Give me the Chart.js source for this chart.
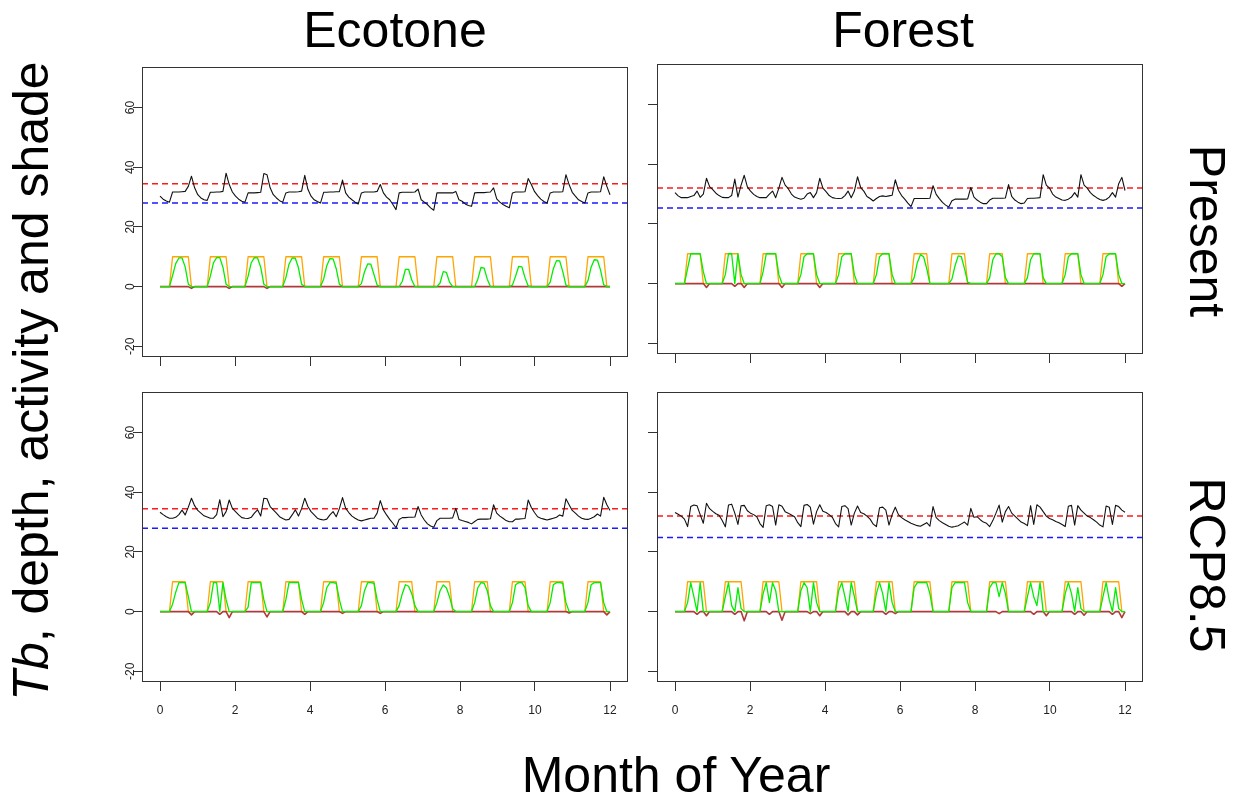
<!DOCTYPE html>
<html>
<head>
<meta charset="utf-8">
<script src="https://cdn.jsdelivr.net/npm/chart.js@4.4.1/dist/chart.umd.min.js"></script>
<style>
  body { margin: 0; background: #fff; width: 1236px; height: 805px; position: relative; overflow: hidden;
         font-family: "Liberation Sans", Arial, sans-serif; }
  canvas { position: absolute; }
  .lab { position: absolute; font-size: 50px; line-height: 50px; white-space: nowrap; color: #000; }
</style>
</head>
<body>
<div class="lab" style="left:395px;top:5px;transform:translateX(-50%)">Ecotone</div>
<div class="lab" style="left:903px;top:5px;transform:translateX(-50%)">Forest</div>
<div class="lab" style="left:676px;top:750px;transform:translateX(-50%)">Month of Year</div>
<div class="lab" style="left:31px;top:381px;transform:translate(-50%,-50%) rotate(-90deg)"><i>Tb</i>, depth, activity and shade</div>
<div class="lab" style="left:1207px;top:231px;transform:translate(-50%,-50%) rotate(90deg)">Present</div>
<div class="lab" style="left:1207px;top:565px;transform:translate(-50%,-50%) rotate(90deg)">RCP8.5</div>

<canvas id="ecoPres" width="546" height="345" style="left:97px;top:57px"></canvas>
<canvas id="forPres" width="546" height="345" style="left:612px;top:54px"></canvas>
<canvas id="ecoRcp" width="546" height="345" style="left:97px;top:382px"></canvas>
<canvas id="forRcp" width="546" height="345" style="left:612px;top:382px"></canvas>

<script>
// axes (R style: 4% expansion of 0..12 and -20..70)
const monthTicks = [0, 2, 4, 6, 8, 10, 12];
const valueTicks = [-20, 0, 20, 40, 60];
const xMin = -0.48, xMax = 12.48;
const yMin = -23.6, yMax = 73.6;

// dashed thresholds per panel: ecotone present, forest present, ecotone rcp, forest rcp
const upperLine = [34.5, 32.0, 34.5, 32.0];
const lowerLine = [28.0, 25.3, 27.9, 24.8];

// every series: 12 months x 12 two-hourly readings (hour 0,2,...,22)

// ---- Ecotone, Present ----
const tbEcoPres = [
  30.3, 29.3, 28.7, 28.3, 31.7, 31.7, 31.7, 31.8, 31.9, 33.6, 37.0, 33.1,
  30.8, 29.7, 29.1, 28.9, 31.6, 31.6, 31.7, 31.7, 31.9, 38.0, 34.2, 31.7,
  30.3, 29.3, 28.6, 28.3, 31.4, 31.4, 31.4, 31.5, 31.6, 37.9, 37.5, 33.1,
  30.8, 29.7, 28.8, 28.3, 31.4, 31.7, 31.7, 31.7, 31.8, 32.0, 37.3, 32.6,
  30.3, 29.1, 28.5, 28.0, 31.6, 31.6, 31.7, 31.7, 31.8, 31.8, 35.7, 31.4,
  30.0, 29.1, 28.3, 27.7, 31.4, 31.7, 31.7, 31.7, 31.7, 31.9, 34.2, 31.4,
  30.0, 29.1, 27.5, 25.8, 31.4, 31.6, 31.6, 31.6, 31.6, 31.7, 32.7, 29.1,
  28.3, 27.5, 26.4, 25.6, 31.4, 31.4, 31.4, 31.4, 31.4, 31.4, 31.9, 29.1,
  28.6, 27.7, 27.2, 26.9, 31.4, 31.5, 31.5, 31.5, 31.6, 31.7, 33.1, 29.4,
  28.3, 27.5, 26.9, 26.4, 31.4, 31.7, 31.7, 31.7, 31.8, 36.2, 34.2, 31.9,
  30.5, 29.3, 28.5, 28.0, 31.4, 31.7, 31.7, 31.7, 31.8, 37.5, 34.2, 31.6,
  30.3, 29.1, 28.5, 28.0, 31.4, 31.7, 31.7, 31.7, 31.8, 36.8, 33.6, 30.8
];
const actEcoPres = [
  0, 0, 0, 0, 3.7, 7.7, 9.6, 9.6, 6.6, 0.8, 0, 0,
  0, 0, 0, 0, 3.5, 8.0, 9.7, 9.7, 6.5, 0.8, 0, 0,
  0, 0, 0, 0, 3.5, 8.0, 9.7, 9.6, 6.5, 0.8, 0, 0,
  0, 0, 0, 0, 3.0, 7.5, 9.6, 9.5, 6.3, 0.8, 0, 0,
  0, 0, 0, 0, 2.5, 7.0, 9.4, 9.3, 6.0, 0.8, 0, 0,
  0, 0, 0, 0, 1.0, 5.0, 7.6, 7.5, 4.0, 0.5, 0, 0,
  0, 0, 0, 0, 0, 1.8, 5.8, 5.8, 2.2, 0, 0, 0,
  0, 0, 0, 0, 0, 1.2, 5.0, 4.8, 1.5, 0, 0, 0,
  0, 0, 0, 0, 0, 2.5, 6.4, 6.2, 2.5, 0, 0, 0,
  0, 0, 0, 0, 0.5, 3.5, 6.8, 6.6, 3.0, 0.2, 0, 0,
  0, 0, 0, 0, 1.5, 6.0, 8.7, 8.6, 5.0, 0.5, 0, 0,
  0, 0, 0, 0, 2.0, 6.5, 9.0, 8.9, 5.5, 0.6, 0, 0
];
const shadeEcoPres = [
  0, 0, 0, 0, 10, 10, 10, 10, 10, 10, 0, 0,
  0, 0, 0, 0, 10, 10, 10, 10, 10, 10, 0, 0,
  0, 0, 0, 0, 10, 10, 10, 10, 10, 10, 0, 0,
  0, 0, 0, 0, 10, 10, 10, 10, 10, 10, 0, 0,
  0, 0, 0, 0, 10, 10, 10, 10, 10, 10, 0, 0,
  0, 0, 0, 0, 10, 10, 10, 10, 10, 10, 0, 0,
  0, 0, 0, 0, 10, 10, 10, 10, 10, 10, 0, 0,
  0, 0, 0, 0, 10, 10, 10, 10, 10, 10, 0, 0,
  0, 0, 0, 0, 10, 10, 10, 10, 10, 10, 0, 0,
  0, 0, 0, 0, 10, 10, 10, 10, 10, 10, 0, 0,
  0, 0, 0, 0, 10, 10, 10, 10, 10, 10, 0, 0,
  0, 0, 0, 0, 10, 10, 10, 10, 10, 10, 0, 0
];
const depthEcoPres = [
  0, 0, 0, 0, 0, 0, 0, 0, 0, 0, -0.6, 0,
  0, 0, 0, 0, 0, 0, 0, 0, 0, 0, -0.6, 0,
  0, 0, 0, 0, 0, 0, 0, 0, 0, 0, -0.6, 0,
  0, 0, 0, 0, 0, 0, 0, 0, 0, 0, 0, 0,
  0, 0, 0, 0, 0, 0, 0, 0, 0, 0, 0, 0,
  0, 0, 0, 0, 0, 0, 0, 0, 0, 0, 0, 0,
  0, 0, 0, 0, 0, 0, 0, 0, 0, 0, 0, 0,
  0, 0, 0, 0, 0, 0, 0, 0, 0, 0, 0, 0,
  0, 0, 0, 0, 0, 0, 0, 0, 0, 0, 0, 0,
  0, 0, 0, 0, 0, 0, 0, 0, 0, 0, 0, 0,
  0, 0, 0, 0, 0, 0, 0, 0, 0, 0, 0, 0,
  0, 0, 0, 0, 0, 0, 0, 0, 0, 0, 0, 0
];

// ---- Forest, Present ----
const tbForPres = [
  30.5, 29.4, 28.8, 28.8, 28.8, 29.2, 29.5, 31.0, 28.9, 30.0, 35.3, 32.5,
  31.5, 30.3, 29.5, 28.9, 28.8, 28.8, 29.5, 35.0, 29.0, 33.0, 36.3, 32.4,
  31.0, 29.9, 29.2, 28.8, 28.8, 28.8, 30.0, 31.0, 28.8, 32.0, 35.6, 33.0,
  31.8, 30.0, 29.0, 28.6, 28.3, 28.6, 30.0, 30.5, 28.8, 30.5, 35.3, 32.0,
  30.8, 29.5, 28.8, 28.6, 28.5, 28.6, 29.5, 31.0, 28.8, 31.0, 35.8, 32.2,
  31.0, 29.2, 28.5, 27.7, 28.5, 29.2, 29.4, 29.2, 29.4, 29.6, 34.8, 31.3,
  29.5, 28.3, 27.0, 25.8, 28.5, 28.5, 28.5, 28.5, 28.5, 28.6, 32.8, 29.9,
  28.5, 27.2, 26.3, 25.7, 27.8, 28.3, 28.3, 28.3, 28.3, 28.4, 32.2, 29.0,
  28.0, 27.3, 26.8, 26.8, 28.0, 28.6, 28.6, 28.6, 28.6, 28.7, 33.2, 29.2,
  28.0, 27.3, 26.8, 27.0, 28.5, 28.6, 28.6, 28.7, 28.8, 36.5, 33.0, 32.0,
  30.0, 29.0, 28.5, 28.0, 27.9, 28.3, 29.0, 30.5, 29.0, 36.5, 33.0, 32.0,
  30.5, 29.5, 28.8, 28.2, 27.9, 28.2, 29.0, 30.5, 29.0, 33.5, 35.6, 31.2
];
const actForPres = [
  0, 0, 0, 0, 5, 10, 10, 10, 10, 4, 0, 0,
  0, 0, 0, 0, 3, 10, 10, 0, 10, 3, 0, 0,
  0, 0, 0, 0, 4, 10, 10, 10, 10, 3, 0, 0,
  0, 0, 0, 0, 3, 9, 10, 10, 10, 3, 0, 0,
  0, 0, 0, 0, 3, 9, 10, 10, 10, 3, 0, 0,
  0, 0, 0, 0, 3, 9, 10, 10, 10, 3, 0, 0,
  0, 0, 0, 0, 2, 7, 9.7, 9, 5, 0, 0, 0,
  0, 0, 0, 0, 1.5, 6, 9.3, 9, 5, 0.5, 0, 0,
  0, 0, 0, 0, 2, 8, 10, 10, 9, 2, 0, 0,
  0, 0, 0, 0, 2, 8, 10, 10, 10, 2, 0, 0,
  0, 0, 0, 0, 3, 9, 10, 10, 10, 3, 0, 0,
  0, 0, 0, 0, 3, 9, 10, 10, 10, 3, 0, 0
];
const shadeForPres = [
  0, 0, 0, 0, 10, 10, 10, 10, 10, 0, 0, 0,
  0, 0, 0, 0, 10, 10, 10, 10, 10, 0, 0, 0,
  0, 0, 0, 0, 10, 10, 10, 10, 10, 0, 0, 0,
  0, 0, 0, 0, 10, 10, 10, 10, 10, 0, 0, 0,
  0, 0, 0, 0, 10, 10, 10, 10, 10, 0, 0, 0,
  0, 0, 0, 0, 10, 10, 10, 10, 10, 0, 0, 0,
  0, 0, 0, 0, 10, 10, 10, 10, 10, 0, 0, 0,
  0, 0, 0, 0, 10, 10, 10, 10, 10, 0, 0, 0,
  0, 0, 0, 0, 10, 10, 10, 10, 10, 0, 0, 0,
  0, 0, 0, 0, 10, 10, 10, 10, 10, 0, 0, 0,
  0, 0, 0, 0, 10, 10, 10, 10, 10, 0, 0, 0,
  0, 0, 0, 0, 10, 10, 10, 10, 10, 0, 0, 0
];
const depthForPres = [
  0, 0, 0, 0, 0, 0, 0, 0, 0, 0, -1.3, 0,
  0, 0, 0, 0, 0, 0, 0, -0.9, 0, 0, -1.3, 0,
  0, 0, 0, 0, 0, 0, 0, 0, 0, 0, -1.3, 0,
  0, 0, 0, 0, 0, 0, 0, 0, 0, 0, -1.3, 0,
  0, 0, 0, 0, 0, 0, 0, 0, 0, 0, 0, 0,
  0, 0, 0, 0, 0, 0, 0, 0, 0, 0, 0, 0,
  0, 0, 0, 0, 0, 0, 0, 0, 0, 0, 0, 0,
  0, 0, 0, 0, 0, 0, 0, 0, 0, 0, 0, 0,
  0, 0, 0, 0, 0, 0, 0, 0, 0, 0, 0, 0,
  0, 0, 0, 0, 0, 0, 0, 0, 0, 0, 0, 0,
  0, 0, 0, 0, 0, 0, 0, 0, 0, 0, 0, 0,
  0, 0, 0, 0, 0, 0, 0, 0, 0, 0, -0.9, 0
];

// ---- Ecotone, RCP8.5 ----
const tbEcoRcp = [
  33.3, 32.5, 31.8, 31.3, 31.3, 31.6, 32.5, 34.0, 32.4, 35.0, 38.0, 35.5,
  33.9, 33.0, 32.1, 31.7, 31.3, 31.3, 32.5, 37.5, 31.8, 33.5, 37.4, 34.6,
  33.5, 32.4, 31.5, 31.3, 31.2, 31.6, 33.0, 34.1, 32.0, 38.0, 37.8, 35.2,
  34.1, 33.0, 31.8, 31.2, 30.7, 30.9, 32.4, 34.1, 32.0, 34.5, 38.0, 35.2,
  33.5, 32.4, 31.3, 30.9, 30.7, 31.0, 32.4, 33.5, 31.8, 34.5, 38.2, 34.6,
  33.2, 32.0, 31.3, 30.7, 30.4, 30.7, 31.0, 31.3, 31.3, 33.0, 37.2, 34.1,
  32.4, 30.9, 29.6, 28.1, 30.9, 31.5, 31.5, 31.6, 31.6, 31.7, 35.2, 32.4,
  30.7, 29.4, 28.7, 28.3, 30.5, 31.3, 31.3, 31.3, 31.3, 31.4, 34.6, 30.9,
  30.5, 30.2, 29.9, 29.4, 30.2, 30.9, 31.0, 31.0, 31.0, 31.1, 35.8, 33.0,
  32.0, 31.3, 30.5, 30.1, 30.1, 31.0, 31.0, 31.1, 31.2, 37.4, 34.9, 33.2,
  31.8, 31.3, 31.0, 30.7, 31.0, 31.3, 31.6, 32.4, 32.0, 37.8, 35.8, 33.9,
  33.0, 32.0, 31.3, 31.0, 30.9, 31.3, 31.8, 32.7, 32.0, 38.3, 35.8, 33.9
];
const actEcoRcp = [
  0, 0, 0, 0, 2.5, 6.5, 9.7, 9.7, 9.7, 5, 0, 0,
  0, 0, 0, 0, 3, 9.7, 9.7, 0, 9.7, 4, 0, 0,
  0, 0, 0, 0, 1.5, 9.7, 9.7, 9.7, 9.7, 4, 0, 0,
  0, 0, 0, 0, 4, 9.7, 9.7, 9.7, 9.7, 4, 0, 0,
  0, 0, 0, 0, 3, 8, 9.7, 9.7, 9.5, 4, 0, 0,
  0, 0, 0, 0, 2, 7, 9.7, 9.7, 9.5, 4, 0, 0,
  0, 0, 0, 0, 2, 6, 9, 8.5, 6, 2, 0, 0,
  0, 0, 0, 0, 3, 7, 8.9, 8, 5, 1, 0, 0,
  0, 0, 0, 0, 3, 8, 9.7, 9.5, 7, 2, 0, 0,
  0, 0, 0, 0, 3, 9, 9.7, 9.7, 8, 2, 0, 0,
  0, 0, 0, 0, 3, 9, 9.7, 9.7, 9.5, 3, 0, 0,
  0, 0, 0, 0, 3, 9, 9.7, 9.7, 9.7, 3, 0, 0
];
const shadeEcoRcp = [
  0, 0, 0, 0, 10, 10, 10, 10, 10, 0, 0, 0,
  0, 0, 0, 0, 10, 10, 10, 10, 10, 0, 0, 0,
  0, 0, 0, 0, 10, 10, 10, 10, 10, 0, 0, 0,
  0, 0, 0, 0, 10, 10, 10, 10, 10, 0, 0, 0,
  0, 0, 0, 0, 10, 10, 10, 10, 10, 0, 0, 0,
  0, 0, 0, 0, 10, 10, 10, 10, 10, 0, 0, 0,
  0, 0, 0, 0, 10, 10, 10, 10, 10, 0, 0, 0,
  0, 0, 0, 0, 10, 10, 10, 10, 10, 0, 0, 0,
  0, 0, 0, 0, 10, 10, 10, 10, 10, 0, 0, 0,
  0, 0, 0, 0, 10, 10, 10, 10, 10, 0, 0, 0,
  0, 0, 0, 0, 10, 10, 10, 10, 10, 0, 0, 0,
  0, 0, 0, 0, 10, 10, 10, 10, 10, 0, 0, 0
];
const depthEcoRcp = [
  0, 0, 0, 0, 0, 0, 0, 0, 0, 0, -1.1, 0,
  0, 0, 0, 0, 0, 0, 0, -0.9, 0, 0, -2.0, 0,
  0, 0, 0, 0, 0, 0, 0, 0, 0, 0, -1.8, 0,
  0, 0, 0, 0, 0, 0, 0, 0, 0, 0, -0.9, 0,
  0, 0, 0, 0, 0, 0, 0, 0, 0, 0, -0.6, 0,
  0, 0, 0, 0, 0, 0, 0, 0, 0, 0, -0.6, 0,
  0, 0, 0, 0, 0, 0, 0, 0, 0, 0, 0, 0,
  0, 0, 0, 0, 0, 0, 0, 0, 0, 0, 0, 0,
  0, 0, 0, 0, 0, 0, 0, 0, 0, 0, 0, 0,
  0, 0, 0, 0, 0, 0, 0, 0, 0, 0, 0, 0,
  0, 0, 0, 0, 0, 0, 0, 0, 0, 0, -0.5, 0,
  0, 0, 0, 0, 0, 0, 0, 0, 0, 0, -1.1, 0
];

// ---- Forest, RCP8.5 ----
const tbForRcp = [
  33.2, 32.6, 32.0, 31.0, 28.5, 35.2, 35.7, 35.5, 32.5, 29.6, 36.3, 34.5,
  33.6, 32.8, 32.3, 30.5, 28.4, 35.7, 36.0, 33.0, 29.2, 35.5, 35.6, 33.8,
  33.0, 32.5, 31.8, 29.5, 28.2, 35.5, 35.8, 35.2, 29.0, 35.8, 35.3, 33.5,
  33.0, 32.4, 31.8, 29.8, 28.5, 35.6, 35.9, 35.0, 29.3, 33.5, 35.8, 33.6,
  33.2, 32.5, 31.6, 29.5, 28.4, 35.2, 35.5, 34.5, 29.0, 33.0, 35.4, 33.2,
  32.8, 32.0, 31.0, 29.3, 28.5, 34.8, 35.0, 34.0, 29.0, 32.5, 35.0, 32.5,
  31.5, 30.8, 30.2, 29.6, 29.2, 28.8, 28.6, 29.2, 29.8, 28.6, 35.2, 31.5,
  30.5, 29.8, 29.2, 28.6, 28.3, 28.5, 28.8, 29.4, 30.0, 29.0, 34.6, 31.6,
  31.8, 30.8, 30.0, 29.6, 28.5, 30.5, 33.0, 35.7, 30.0, 33.5, 35.2, 33.0,
  32.0, 31.0, 30.0, 29.5, 28.8, 35.5, 29.2, 35.8, 35.0, 33.5, 32.0, 31.2,
  30.8, 30.2, 29.8, 29.2, 28.5, 35.3, 35.6, 29.0, 35.5, 34.0, 33.0, 32.0,
  31.5, 30.8, 30.0, 29.0, 28.4, 35.4, 35.0, 29.2, 35.6, 35.2, 34.0, 33.3
];
const actForRcp = [
  0, 0, 0, 0, 3, 9.7, 5, 0, 9.7, 0, 0, 0,
  0, 0, 0, 0, 5, 9.7, 2, 0, 8, 1, 0, 0,
  0, 0, 0, 0, 6, 9.7, 3, 9.7, 7, 0, 0, 0,
  0, 0, 0, 0, 7, 9.7, 8, 0, 9.7, 3, 0, 0,
  0, 0, 0, 0, 7, 9.7, 5, 0, 9.7, 5, 0, 0,
  0, 0, 0, 0, 6, 9.7, 6, 0, 9.7, 3, 0, 0,
  0, 0, 0, 0, 8, 9.7, 9.7, 9.7, 9.7, 6, 0, 0,
  0, 0, 0, 0, 8, 9.7, 9.7, 9.7, 9.7, 3, 0, 0,
  0, 0, 0, 0, 8, 9.7, 9.7, 5, 9.7, 6, 0, 0,
  0, 0, 0, 0, 5, 9.7, 5, 2, 9.7, 0, 0, 0,
  0, 0, 0, 0, 6, 9.7, 6, 0, 8, 1, 0, 0,
  0, 0, 0, 0, 5, 9.7, 4, 0, 8, 1, 0, 0
];
const shadeForRcp = [
  0, 0, 0, 0, 10, 10, 10, 10, 10, 10, 0, 0,
  0, 0, 0, 0, 10, 10, 10, 10, 10, 10, 0, 0,
  0, 0, 0, 0, 10, 10, 10, 10, 10, 10, 0, 0,
  0, 0, 0, 0, 10, 10, 10, 10, 10, 10, 0, 0,
  0, 0, 0, 0, 10, 10, 10, 10, 10, 10, 0, 0,
  0, 0, 0, 0, 10, 10, 10, 10, 10, 10, 0, 0,
  0, 0, 0, 0, 10, 10, 10, 10, 10, 10, 0, 0,
  0, 0, 0, 0, 10, 10, 10, 10, 10, 10, 0, 0,
  0, 0, 0, 0, 10, 10, 10, 10, 10, 10, 0, 0,
  0, 0, 0, 0, 10, 10, 10, 10, 10, 10, 0, 0,
  0, 0, 0, 0, 10, 10, 10, 10, 10, 10, 0, 0,
  0, 0, 0, 0, 10, 10, 10, 10, 10, 10, 0, 0
];
const depthForRcp = [
  0, 0, 0, 0, 0, 0, 0, -0.9, 0, 0, -1.4, 0,
  0, 0, 0, 0, 0, 0, 0, -0.9, 0, 0, -3.1, 0,
  0, 0, 0, 0, 0, 0, -0.9, 0, 0, 0, -2.9, 0,
  0, 0, 0, 0, 0, 0, 0, -0.7, 0, 0, -1.4, 0,
  0, 0, 0, 0, 0, 0, 0, -1.1, 0, 0, -1.1, 0,
  0, 0, 0, 0, 0, 0, 0, -0.9, 0, 0, -0.7, 0,
  0, 0, 0, 0, 0, 0, 0, 0, 0, 0, 0, 0,
  0, 0, 0, 0, 0, 0, 0, 0, 0, 0, 0, 0,
  0, 0, 0, 0, 0, 0, 0, -0.7, 0, 0, 0, 0,
  0, 0, 0, 0, 0, 0, -0.9, 0, 0, 0, -1.4, 0,
  0, 0, 0, 0, 0, 0, 0, -0.9, 0, 0, -1.2, 0,
  0, 0, 0, 0, 0, 0, 0, -0.9, 0, 0, -2.0, 0
];

// readings run evenly from month 0 to month 12
const toPoints = arr => arr.map((v, i) => ({ x: i * 12 / (arr.length - 1), y: v }));

const tickFont = { family: '"Liberation Sans", Arial, sans-serif', size: 12 };

// frame round the plotting region, like R's box()
const boxPlugin = {
  id: 'box',
  afterDraw(chart) {
    const { ctx, chartArea: a } = chart;
    ctx.save();
    ctx.strokeStyle = '#333';
    ctx.lineWidth = 1;
    ctx.strokeRect(Math.round(a.left) + 0.5, Math.round(a.top) + 0.5, Math.round(a.width) - 1, Math.round(a.height) - 1);
    ctx.restore();
  }
};

function makePanel(id, idx, tb, act, shade, depth, showX, showY) {
  new Chart(document.getElementById(id), {
    type: 'line',
    data: {
      datasets: [
        { data: toPoints(tb), borderColor: '#111', borderWidth: 1.1, order: 0 },
        { data: toPoints(act), borderColor: '#00ee00', borderWidth: 1.3, order: 1 },
        { data: toPoints(depth), borderColor: '#b03a3a', borderWidth: 1.6, order: 2 },
        { data: toPoints(shade), borderColor: '#ffa500', borderWidth: 1.3, order: 3 },
        { data: [{ x: xMin, y: upperLine[idx] }, { x: xMax, y: upperLine[idx] }],
          borderColor: '#ff1a1a', borderWidth: 1.5, borderDash: [6, 4], order: 4 },
        { data: [{ x: xMin, y: lowerLine[idx] }, { x: xMax, y: lowerLine[idx] }],
          borderColor: '#1a1aff', borderWidth: 1.5, borderDash: [6, 4], order: 4 }
      ]
    },
    options: {
      responsive: false,
      animation: false,
      events: [],
      elements: { point: { radius: 0 }, line: { tension: 0, borderJoinStyle: 'round', borderCapStyle: 'butt' } },
      layout: { padding: { left: 0, top: 10, right: 15, bottom: 0 } },
      plugins: { legend: { display: false }, tooltip: { enabled: false } },
      scales: {
        x: {
          type: 'linear', min: xMin, max: xMax,
          afterBuildTicks: s => { s.ticks = monthTicks.map(v => ({ value: v })); },
          afterFit: s => { s.height = 45; },
          grid: { drawOnChartArea: false, drawTicks: true, tickLength: 9, color: '#333' },
          border: { display: false },
          ticks: { display: showX, autoSkip: false, maxRotation: 0, minRotation: 0, padding: 12,
                   color: '#222', font: tickFont }
        },
        y: {
          type: 'linear', min: yMin, max: yMax,
          afterBuildTicks: s => { s.ticks = valueTicks.map(v => ({ value: v })); },
          afterFit: s => { s.width = 45; },
          grid: { drawOnChartArea: false, drawTicks: true, tickLength: 9, color: '#333' },
          border: { display: false },
          ticks: { display: showY, autoSkip: false, minRotation: 90, maxRotation: 90,
                   crossAlign: 'center', padding: -6, color: '#222', font: tickFont }
        }
      }
    },
    plugins: [boxPlugin]
  });
}

makePanel('ecoPres', 0, tbEcoPres, actEcoPres, shadeEcoPres, depthEcoPres, false, true);
makePanel('forPres', 1, tbForPres, actForPres, shadeForPres, depthForPres, false, false);
makePanel('ecoRcp', 2, tbEcoRcp, actEcoRcp, shadeEcoRcp, depthEcoRcp, true, true);
makePanel('forRcp', 3, tbForRcp, actForRcp, shadeForRcp, depthForRcp, true, false);
</script>
</body>
</html>
